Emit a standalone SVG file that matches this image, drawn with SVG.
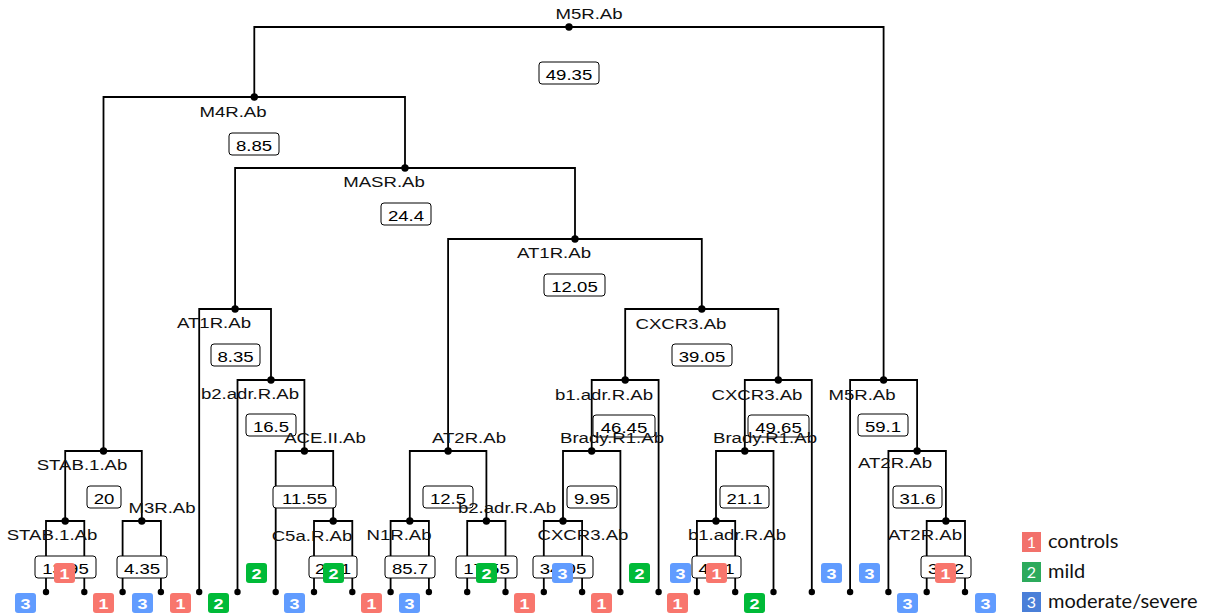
<svg xmlns="http://www.w3.org/2000/svg" width="1215" height="616" viewBox="0 0 1215 616">
<style>
.edge{fill:none;stroke:#000;stroke-width:1.8;stroke-linejoin:miter;stroke-linecap:square}
.dot{fill:#000}
.lbl{font-family:"Liberation Sans",Arial,sans-serif;font-size:15.5px;fill:#111;text-anchor:middle}
.box{fill:#fff;stroke:#000;stroke-width:1}
.bt{font-family:"Liberation Sans",Arial,sans-serif;font-size:15.5px;fill:#000;text-anchor:middle}
.bd{font-family:"Liberation Sans",Arial,sans-serif;font-size:15px;font-weight:bold;fill:#fff;text-anchor:middle}
.c1{fill:#F8766D}.c2{fill:#00BA38}.c3{fill:#619CFF}
.l1{fill:#F2716B}.l2{fill:#2CAA5C}.l3{fill:#4A7FD8}
.lg{font-family:Lato,"Open Sans",sans-serif;font-size:20px;fill:#111}
.lgd{font-family:Lato,"Open Sans",sans-serif;font-size:16px;fill:#fff;text-anchor:middle}
</style>
<defs>
<rect id="bdg" width="21" height="20" rx="3"/>
</defs>
<g id="connectors">
<path class="edge" d="M254.3 97V27H883.6V380"/>
<path class="edge" d="M103.5 451V97H405V168"/>
<path class="edge" d="M235.1 309V168H575V239"/>
<path class="edge" d="M448.1 451V239H701.8V309"/>
<path class="edge" d="M625.2 380V309H778.3V380"/>
<path class="edge" d="M199.2 592V309H271V380"/>
<path class="edge" d="M237.5 592V380H304.4V451"/>
<path class="edge" d="M275.7 592V451H333.2V521"/>
<path class="edge" d="M314 592V521H352.3V592"/>
<path class="edge" d="M65.2 521V451H141.8V521"/>
<path class="edge" d="M46 592V521H84.3V592"/>
<path class="edge" d="M122.6 592V521H160.9V592"/>
<path class="edge" d="M409.8 521V451H486.4V521"/>
<path class="edge" d="M390.6 592V521H428.9V592"/>
<path class="edge" d="M467.2 592V521H505.5V592"/>
<path class="edge" d="M591.7 451V380H658.6V592"/>
<path class="edge" d="M563 521V451H620.4V592"/>
<path class="edge" d="M543.8 592V521H582.1V592"/>
<path class="edge" d="M744.8 451V380H811.8V592"/>
<path class="edge" d="M716 521V451H773.5V592"/>
<path class="edge" d="M696.9 592V521H735.2V592"/>
<path class="edge" d="M850.1 592V380H917.1V451"/>
<path class="edge" d="M888.4 592V451H945.9V521"/>
<path class="edge" d="M926.7 592V521H965V592"/>
</g>
<g id="leaves">
<circle class="dot" cx="46" cy="592" r="3.2"/><circle class="dot" cx="84.3" cy="592" r="3.2"/><circle class="dot" cx="122.6" cy="592" r="3.2"/><circle class="dot" cx="160.9" cy="592" r="3.2"/><circle class="dot" cx="199.2" cy="592" r="3.2"/><circle class="dot" cx="237.5" cy="592" r="3.2"/><circle class="dot" cx="275.7" cy="592" r="3.2"/><circle class="dot" cx="314" cy="592" r="3.2"/><circle class="dot" cx="352.3" cy="592" r="3.2"/><circle class="dot" cx="390.6" cy="592" r="3.2"/><circle class="dot" cx="428.9" cy="592" r="3.2"/><circle class="dot" cx="467.2" cy="592" r="3.2"/><circle class="dot" cx="505.5" cy="592" r="3.2"/><circle class="dot" cx="543.8" cy="592" r="3.2"/><circle class="dot" cx="582.1" cy="592" r="3.2"/><circle class="dot" cx="620.4" cy="592" r="3.2"/><circle class="dot" cx="658.6" cy="592" r="3.2"/><circle class="dot" cx="696.9" cy="592" r="3.2"/><circle class="dot" cx="735.2" cy="592" r="3.2"/><circle class="dot" cx="773.5" cy="592" r="3.2"/><circle class="dot" cx="811.8" cy="592" r="3.2"/><circle class="dot" cx="850.1" cy="592" r="3.2"/><circle class="dot" cx="888.4" cy="592" r="3.2"/><circle class="dot" cx="926.7" cy="592" r="3.2"/><circle class="dot" cx="965" cy="592" r="3.2"/>
</g>
<g id="n-root"><circle class="dot" cx="569" cy="27" r="3.7"/><text class="lbl" transform="translate(589,19) scale(1.2,1)">M5R.Ab</text><rect class="box" x="539" y="62" width="60" height="22" rx="3"/><text class="bt" transform="translate(569,79.5) scale(1.2,1)">49.35</text></g>
<g id="n-m4r"><circle class="dot" cx="254.3" cy="97" r="3.7"/><text class="lbl" transform="translate(233,117) scale(1.2,1)">M4R.Ab</text><rect class="box" x="229" y="133" width="50" height="22" rx="3"/><text class="bt" transform="translate(254,150.5) scale(1.2,1)">8.85</text></g>
<g id="n-masr"><circle class="dot" cx="405" cy="168" r="3.7"/><text class="lbl" transform="translate(384,187) scale(1.2,1)">MASR.Ab</text><rect class="box" x="381" y="203" width="50" height="22" rx="3"/><text class="bt" transform="translate(406,220.5) scale(1.2,1)">24.4</text></g>
<g id="n-at1r-r"><circle class="dot" cx="575" cy="239" r="3.7"/><text class="lbl" transform="translate(554,258) scale(1.2,1)">AT1R.Ab</text><rect class="box" x="544" y="274" width="61" height="22" rx="3"/><text class="bt" transform="translate(574.5,291.5) scale(1.2,1)">12.05</text></g>
<g id="n-cxcr3-u"><circle class="dot" cx="701.8" cy="309" r="3.7"/><text class="lbl" transform="translate(681,329) scale(1.2,1)">CXCR3.Ab</text><rect class="box" x="672" y="344" width="60" height="22" rx="3"/><text class="bt" transform="translate(702,361.5) scale(1.2,1)">39.05</text></g>
<g id="n-at1r-l"><circle class="dot" cx="235.1" cy="309" r="3.7"/><text class="lbl" transform="translate(214,328) scale(1.2,1)">AT1R.Ab</text><rect class="box" x="211" y="344" width="49" height="22" rx="3"/><text class="bt" transform="translate(235.5,361.5) scale(1.2,1)">8.35</text></g>
<g id="n-b2adr"><circle class="dot" cx="271" cy="380" r="3.7"/><text class="lbl" transform="translate(250,399) scale(1.2,1)">b2.adr.R.Ab</text><rect class="box" x="246" y="414" width="50" height="22" rx="3"/><text class="bt" transform="translate(271,431.5) scale(1.2,1)">16.5</text></g>
<g id="n-ace"><circle class="dot" cx="304.4" cy="451" r="3.7"/><text class="lbl" transform="translate(325,443) scale(1.2,1)">ACE.II.Ab</text><rect class="box" x="273" y="486" width="63" height="22" rx="3"/><text class="bt" transform="translate(304.5,503.5) scale(1.2,1)">11.55</text></g>
<g id="n-c5a"><circle class="dot" cx="333.2" cy="521" r="3.7"/><text class="lbl" transform="translate(312,541) scale(1.2,1)">C5a.R.Ab</text><rect class="box" x="309" y="556" width="48" height="22" rx="3"/><text class="bt" transform="translate(333,573.5) scale(1.2,1)">24.1</text></g>
<g id="n-stab-u"><circle class="dot" cx="103.5" cy="451" r="3.7"/><text class="lbl" transform="translate(82,470) scale(1.2,1)">STAB.1.Ab</text><rect class="box" x="87" y="486" width="34" height="22" rx="3"/><text class="bt" transform="translate(104,503.5) scale(1.2,1)">20</text></g>
<g id="n-stab-l"><circle class="dot" cx="65.2" cy="521" r="3.7"/><text class="lbl" transform="translate(52,540) scale(1.2,1)">STAB.1.Ab</text><rect class="box" x="35" y="556" width="61" height="22" rx="3"/><text class="bt" transform="translate(65.5,573.5) scale(1.2,1)">13.95</text></g>
<g id="n-m3r"><circle class="dot" cx="141.8" cy="521" r="3.7"/><text class="lbl" transform="translate(162,513) scale(1.2,1)">M3R.Ab</text><rect class="box" x="117" y="556" width="50" height="22" rx="3"/><text class="bt" transform="translate(142,573.5) scale(1.2,1)">4.35</text></g>
<g id="n-at2r-m"><circle class="dot" cx="448.1" cy="451" r="3.7"/><text class="lbl" transform="translate(469,443) scale(1.2,1)">AT2R.Ab</text><rect class="box" x="423" y="486" width="50" height="22" rx="3"/><text class="bt" transform="translate(448,503.5) scale(1.2,1)">12.5</text></g>
<g id="n-n1r"><circle class="dot" cx="409.8" cy="521" r="3.7"/><text class="lbl" transform="translate(399,540) scale(1.2,1)">N1R.Ab</text><rect class="box" x="385" y="556" width="50" height="22" rx="3"/><text class="bt" transform="translate(410,573.5) scale(1.2,1)">85.7</text></g>
<g id="n-b2adr2"><circle class="dot" cx="486.4" cy="521" r="3.7"/><text class="lbl" transform="translate(507,513) scale(1.2,1)">b2.adr.R.Ab</text><rect class="box" x="456" y="556" width="61" height="22" rx="3"/><text class="bt" transform="translate(486.5,573.5) scale(1.2,1)">17.55</text></g>
<g id="n-b1adr"><circle class="dot" cx="625.2" cy="380" r="3.7"/><text class="lbl" transform="translate(604,400) scale(1.2,1)">b1.adr.R.Ab</text><rect class="box" x="593" y="415" width="62" height="22" rx="3"/><text class="bt" transform="translate(624,432.5) scale(1.2,1)">46.45</text></g>
<g id="n-brady-l"><circle class="dot" cx="591.7" cy="451" r="3.7"/><text class="lbl" transform="translate(612,443) scale(1.2,1)">Brady.R1.Ab</text><rect class="box" x="567" y="486" width="50" height="22" rx="3"/><text class="bt" transform="translate(592,503.5) scale(1.2,1)">9.95</text></g>
<g id="n-cxcr3-l"><circle class="dot" cx="563" cy="521" r="3.7"/><text class="lbl" transform="translate(583,540) scale(1.2,1)">CXCR3.Ab</text><rect class="box" x="533" y="556" width="60" height="22" rx="3"/><text class="bt" transform="translate(563,573.5) scale(1.2,1)">34.05</text></g>
<g id="n-cxcr3-r"><circle class="dot" cx="778.3" cy="380" r="3.7"/><text class="lbl" transform="translate(757,400) scale(1.2,1)">CXCR3.Ab</text><rect class="box" x="748" y="415" width="61" height="22" rx="3"/><text class="bt" transform="translate(778.5,432.5) scale(1.2,1)">49.65</text></g>
<g id="n-brady-r"><circle class="dot" cx="744.8" cy="451" r="3.7"/><text class="lbl" transform="translate(765,443) scale(1.2,1)">Brady.R1.Ab</text><rect class="box" x="720" y="486" width="49" height="22" rx="3"/><text class="bt" transform="translate(744.5,503.5) scale(1.2,1)">21.1</text></g>
<g id="n-b1low"><circle class="dot" cx="716" cy="521" r="3.7"/><text class="lbl" transform="translate(737,540) scale(1.2,1)">b1.adr.R.Ab</text><rect class="box" x="692" y="556" width="49" height="22" rx="3"/><text class="bt" transform="translate(716.5,573.5) scale(1.2,1)">40.1</text></g>
<g id="n-m5r-r"><circle class="dot" cx="883.6" cy="380" r="3.7"/><text class="lbl" transform="translate(862,400) scale(1.2,1)">M5R.Ab</text><rect class="box" x="858" y="414" width="50" height="22" rx="3"/><text class="bt" transform="translate(883,431.5) scale(1.2,1)">59.1</text></g>
<g id="n-at2r-u"><circle class="dot" cx="917.1" cy="451" r="3.7"/><text class="lbl" transform="translate(895,468) scale(1.2,1)">AT2R.Ab</text><rect class="box" x="893" y="486" width="49" height="22" rx="3"/><text class="bt" transform="translate(917.5,503.5) scale(1.2,1)">31.6</text></g>
<g id="n-at2r-l"><circle class="dot" cx="945.9" cy="521" r="3.7"/><text class="lbl" transform="translate(925,540) scale(1.2,1)">AT2R.Ab</text><rect class="box" x="921" y="556" width="50" height="22" rx="3"/><text class="bt" transform="translate(946,573.5) scale(1.2,1)">35.2</text></g>
<g id="badges">
<g transform="translate(15,593)"><use href="#bdg" class="c3"/><text class="bd" transform="translate(10.5,15.5) scale(1.2,1)">3</text></g>
<g transform="translate(93,593)"><use href="#bdg" class="c1"/><text class="bd" transform="translate(10.5,15.5) scale(1.2,1)">1</text></g>
<g transform="translate(132,593)"><use href="#bdg" class="c3"/><text class="bd" transform="translate(10.5,15.5) scale(1.2,1)">3</text></g>
<g transform="translate(170,593)"><use href="#bdg" class="c1"/><text class="bd" transform="translate(10.5,15.5) scale(1.2,1)">1</text></g>
<g transform="translate(208,593)"><use href="#bdg" class="c2"/><text class="bd" transform="translate(10.5,15.5) scale(1.2,1)">2</text></g>
<g transform="translate(284,593)"><use href="#bdg" class="c3"/><text class="bd" transform="translate(10.5,15.5) scale(1.2,1)">3</text></g>
<g transform="translate(361,593)"><use href="#bdg" class="c1"/><text class="bd" transform="translate(10.5,15.5) scale(1.2,1)">1</text></g>
<g transform="translate(399,593)"><use href="#bdg" class="c3"/><text class="bd" transform="translate(10.5,15.5) scale(1.2,1)">3</text></g>
<g transform="translate(514,593)"><use href="#bdg" class="c1"/><text class="bd" transform="translate(10.5,15.5) scale(1.2,1)">1</text></g>
<g transform="translate(591,593)"><use href="#bdg" class="c1"/><text class="bd" transform="translate(10.5,15.5) scale(1.2,1)">1</text></g>
<g transform="translate(667,593)"><use href="#bdg" class="c1"/><text class="bd" transform="translate(10.5,15.5) scale(1.2,1)">1</text></g>
<g transform="translate(744,593)"><use href="#bdg" class="c2"/><text class="bd" transform="translate(10.5,15.5) scale(1.2,1)">2</text></g>
<g transform="translate(897,593)"><use href="#bdg" class="c3"/><text class="bd" transform="translate(10.5,15.5) scale(1.2,1)">3</text></g>
<g transform="translate(975,593)"><use href="#bdg" class="c3"/><text class="bd" transform="translate(10.5,15.5) scale(1.2,1)">3</text></g>
<g transform="translate(54,563)"><use href="#bdg" class="c1"/><text class="bd" transform="translate(10.5,15.5) scale(1.2,1)">1</text></g>
<g transform="translate(246,563)"><use href="#bdg" class="c2"/><text class="bd" transform="translate(10.5,15.5) scale(1.2,1)">2</text></g>
<g transform="translate(323,563)"><use href="#bdg" class="c2"/><text class="bd" transform="translate(10.5,15.5) scale(1.2,1)">2</text></g>
<g transform="translate(476,563)"><use href="#bdg" class="c2"/><text class="bd" transform="translate(10.5,15.5) scale(1.2,1)">2</text></g>
<g transform="translate(552,563)"><use href="#bdg" class="c3"/><text class="bd" transform="translate(10.5,15.5) scale(1.2,1)">3</text></g>
<g transform="translate(629,563)"><use href="#bdg" class="c2"/><text class="bd" transform="translate(10.5,15.5) scale(1.2,1)">2</text></g>
<g transform="translate(670,563)"><use href="#bdg" class="c3"/><text class="bd" transform="translate(10.5,15.5) scale(1.2,1)">3</text></g>
<g transform="translate(706,563)"><use href="#bdg" class="c1"/><text class="bd" transform="translate(10.5,15.5) scale(1.2,1)">1</text></g>
<g transform="translate(821,563)"><use href="#bdg" class="c3"/><text class="bd" transform="translate(10.5,15.5) scale(1.2,1)">3</text></g>
<g transform="translate(859,563)"><use href="#bdg" class="c3"/><text class="bd" transform="translate(10.5,15.5) scale(1.2,1)">3</text></g>
<g transform="translate(935,563)"><use href="#bdg" class="c1"/><text class="bd" transform="translate(10.5,15.5) scale(1.2,1)">1</text></g>
</g>
<g id="legend">
<rect class="l1" x="1022" y="532" width="19" height="20"/><text class="lgd" x="1031.5" y="548">1</text><text class="lg" x="1048" y="548">controls</text>
<rect class="l2" x="1022" y="562" width="19" height="20"/><text class="lgd" x="1031.5" y="578">2</text><text class="lg" x="1048" y="578">mild</text>
<rect class="l3" x="1022" y="592" width="19" height="20"/><text class="lgd" x="1031.5" y="608">3</text><text class="lg" x="1048" y="608">moderate/severe</text>
</g>
</svg>
